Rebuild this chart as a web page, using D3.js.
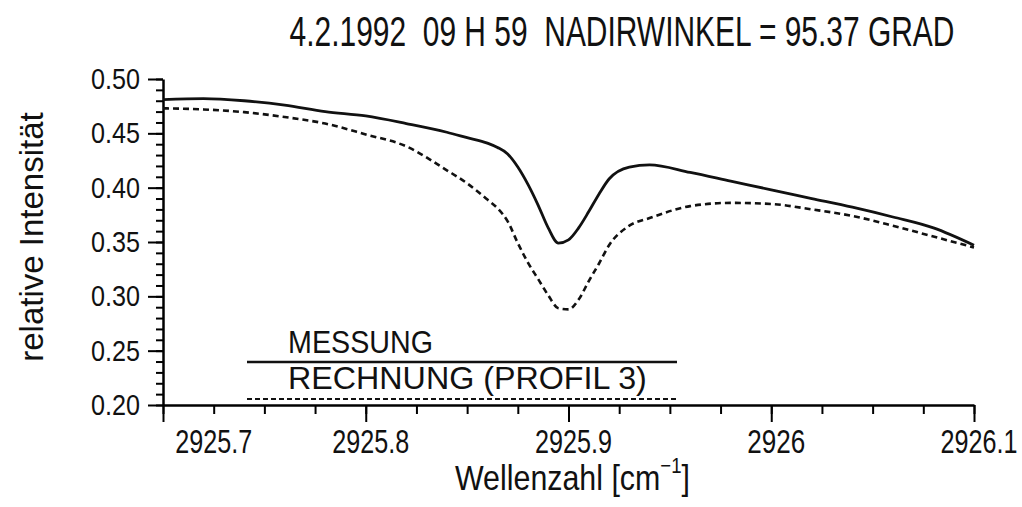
<!DOCTYPE html>
<html>
<head>
<meta charset="utf-8">
<script src="https://cdn.jsdelivr.net/npm/d3@7"></script>
<style>
  body { margin: 0; background: #fff; }
  svg { display: block; }
  text { font-family: "Liberation Sans", Arial, sans-serif; fill: #111; }
</style>
</head>
<body>
<div id="vis-container"></div>
<script>
// values
let wavenumber = [2925.70, 2925.72, 2925.74, 2925.76, 2925.78, 2925.80, 2925.82, 2925.84,
  2925.85, 2925.86, 2925.865, 2925.87, 2925.875, 2925.88, 2925.885, 2925.89, 2925.895,
  2925.90, 2925.905, 2925.91, 2925.915, 2925.92, 2925.93, 2925.94, 2925.96, 2925.98,
  2926.00, 2926.02, 2926.04, 2926.06, 2926.08, 2926.10];
let messung = [0.481, 0.482, 0.480, 0.476, 0.470, 0.466, 0.459, 0.451,
  0.446, 0.441, 0.437, 0.431, 0.419, 0.403, 0.384, 0.363, 0.349,
  0.352, 0.363, 0.378, 0.394, 0.408, 0.419, 0.421, 0.414, 0.406,
  0.398, 0.390, 0.382, 0.373, 0.363, 0.347];
let rechnung = [0.473, 0.472, 0.4695, 0.465, 0.459, 0.449, 0.438, 0.416,
  0.404, 0.389, 0.381, 0.369, 0.349, 0.331, 0.316, 0.301, 0.289,
  0.288, 0.297, 0.314, 0.330, 0.347, 0.365, 0.372, 0.383, 0.386,
  0.385, 0.380, 0.374, 0.365, 0.355, 0.345];

let xTicks = [2925.7, 2925.8, 2925.9, 2926.0, 2926.1];
let xTickLabels = ["2925.7", "2925.8", "2925.9", "2926", "2926.1"];
let yTicks = [0.20, 0.25, 0.30, 0.35, 0.40, 0.45, 0.50];
let yTickLabels = ["0.20", "0.25", "0.30", "0.35", "0.40", "0.45", "0.50"];
let legendLabels = ["MESSUNG", "RECHNUNG (PROFIL 3)"];
let title = "4.2.1992  09 H 59  NADIRWINKEL = 95.37 GRAD";

let w = 1022;
let h = 507;

let svg = d3.select("#vis-container")
  .append("svg")
  .attr("width", w)
  .attr("height", h);

let x = d3.scaleLinear()
  .domain([2925.7, 2926.1])
  .range([163, 974]);

let y = d3.scaleLinear()
  .domain([0.2, 0.5])
  .range([405, 79]);

// squeeze a text to a given width (the plotter font is narrow)
function fit(sel, width){
  let len = sel.node().getComputedTextLength();
  let k = width / len;
  sel.attr("transform", "scale(" + k + ",1)");
}

function label(str, px, py, size, anchor, width){
  let g = svg.append("g").attr("transform", "translate(" + px + "," + py + ")");
  let t = g.append("text")
    .attr("font-size", size)
    .attr("text-anchor", anchor)
    .style("white-space", "pre")
    .text(str);
  if(width) fit(t, width);
  return t;
}

// title
label(title, 622, 46, 42, "middle", 665);

// minor ticks
let xMinor = d3.range(0, 17).map(i => 2925.7 + i * 0.025);
let yMinor = d3.range(0, 31).map(i => 0.2 + i * 0.01);

svg.append("g")
  .attr("transform", "translate(0," + y(0.2) + ")")
  .call(d3.axisBottom(x).tickValues(xMinor).tickSize(9).tickFormat("").tickSizeOuter(0))
  .call(g => g.select(".domain").attr("stroke-width", 2.5))
  .call(g => g.selectAll(".tick line").attr("stroke-width", 2));

svg.append("g")
  .attr("transform", "translate(0," + y(0.2) + ")")
  .call(d3.axisBottom(x).tickValues(xTicks).tickSize(17).tickFormat("").tickSizeOuter(0))
  .call(g => g.select(".domain").remove())
  .call(g => g.selectAll(".tick line").attr("stroke-width", 2));

svg.append("g")
  .attr("transform", "translate(" + x(2925.7) + ",0)")
  .call(d3.axisLeft(y).tickValues(yMinor).tickSize(7).tickFormat("").tickSizeOuter(0))
  .call(g => g.select(".domain").attr("stroke-width", 2.5))
  .call(g => g.selectAll(".tick line").attr("stroke-width", 2));

svg.append("g")
  .attr("transform", "translate(" + x(2925.7) + ",0)")
  .call(d3.axisLeft(y).tickValues(yTicks).tickSize(15).tickFormat("").tickSizeOuter(0))
  .call(g => g.select(".domain").remove())
  .call(g => g.selectAll(".tick line").attr("stroke-width", 2));

// tick labels
xTicks.forEach((v, i) => {
  let px = i === 0 ? x(v + 0.025) : x(v) + 5;
  label(xTickLabels[i], px, 453, 33, "middle", xTickLabels[i].length > 4 ? 77 : 58);
});
yTicks.forEach((v, i) => {
  label(yTickLabels[i], 140, y(v) + 10, 29, "end", 49);
});

// axis titles
let yl = svg.append("g").attr("transform", "translate(43,237) rotate(-90)");
yl.append("text")
  .attr("font-size", 33)
  .attr("text-anchor", "middle")
  .text("relative Intensität");

let xl = svg.append("g").attr("transform", "translate(455,490)");
let xt = xl.append("text").attr("font-size", 36);
xt.append("tspan").text("Wellenzahl [cm");
xt.append("tspan").attr("dy", -17).attr("font-size", 22).text("\u2212\u0031");
xt.append("tspan").attr("dy", 17).text("]");
fit(xt, 235);

// curves
let data = wavenumber.map((v, i) => ({x: v, m: messung[i], r: rechnung[i]}));

let lineM = d3.line()
  .x(d => x(d.x))
  .y(d => y(d.m))
  .curve(d3.curveMonotoneX);

let lineR = d3.line()
  .x(d => x(d.x))
  .y(d => y(d.r))
  .curve(d3.curveMonotoneX);

svg.append("path")
  .datum(data)
  .attr("d", lineM)
  .attr("fill", "none")
  .attr("stroke", "#111")
  .attr("stroke-width", 2.8);

svg.append("path")
  .datum(data)
  .attr("d", lineR)
  .attr("fill", "none")
  .attr("stroke", "#111")
  .attr("stroke-width", 2.6)
  .attr("stroke-dasharray", "6,4");

// legend
let lx0 = 247, lx1 = 677;
label(legendLabels[0], 288, 353, 32, "start", 145);
svg.append("line")
  .attr("x1", lx0).attr("x2", lx1)
  .attr("y1", 362).attr("y2", 362)
  .attr("stroke", "#111").attr("stroke-width", 2.5);
label(legendLabels[1], 288, 389, 32, "start", 359);
svg.append("line")
  .attr("x1", lx0).attr("x2", lx1)
  .attr("y1", 399).attr("y2", 399)
  .attr("stroke", "#111").attr("stroke-width", 2)
  .attr("stroke-dasharray", "5,3");
</script>
</body>
</html>
